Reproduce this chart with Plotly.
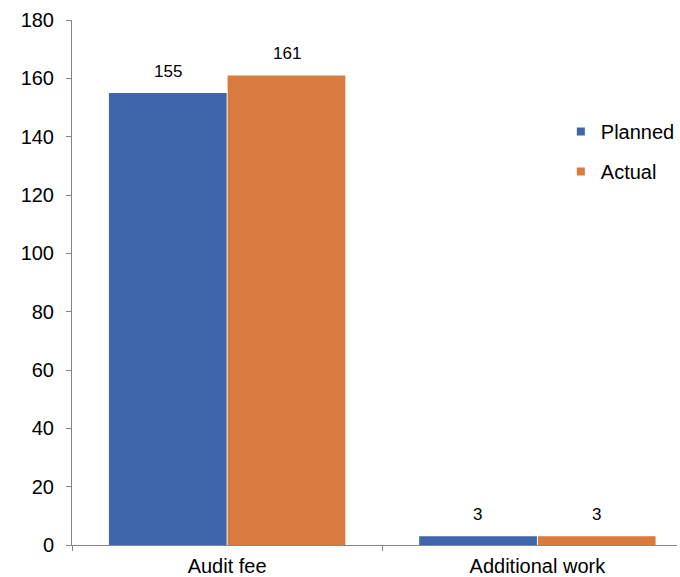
import plotly.graph_objects as go

categories = ["Audit fee", "Additional work"]
planned = [155, 3]
actual = [161, 3]
series_names = ["Planned", "Actual"]
colors = ["#3F65AA", "#D97A3F"]
y_ticks = [0, 20, 40, 60, 80, 100, 120, 140, 160, 180]

FONT = "Liberation Sans, Arial"

fig = go.Figure()
for i, (name, vals) in enumerate(zip(series_names, [planned, actual])):
    fig.add_trace(go.Bar(
        x=categories, y=vals, name=name,
        marker=dict(color=colors[i], line=dict(width=0)),
        showlegend=False,
    ))
# legend entries with small square markers
for i, name in enumerate(series_names):
    fig.add_trace(go.Scatter(
        x=[None], y=[None], mode="markers", name=name,
        marker=dict(symbol="square", size=8, color=colors[i]),
        legendgroup=name, showlegend=True,
    ))

# data labels
offsets = [-59.5, 59.5]
for i, vals in enumerate([planned, actual]):
    for c, v in zip(categories, vals):
        fig.add_annotation(x=c, y=v, text=str(v), showarrow=False,
                           xshift=offsets[i], yanchor="bottom", yshift=10,
                           font=dict(size=17, color="#000000", family=FONT))

fig.update_layout(
    width=680, height=577,
    margin=dict(l=72, r=0, t=20, b=32),
    paper_bgcolor="white", plot_bgcolor="white",
    barmode="group", bargap=0.235, bargroupgap=0.008,
    font=dict(family=FONT, size=20, color="#000000"),
    legend=dict(x=0.808, y=0.825, xanchor="left", yanchor="top",
                font=dict(size=20), tracegroupgap=11, bgcolor="rgba(0,0,0,0)",
                itemwidth=30),
    xaxis=dict(range=[-0.5, 1.45], showline=True, linecolor="#868686",
               linewidth=1, ticks="outside", tickson="boundaries", ticklen=5,
               tickcolor="#868686", showgrid=False, zeroline=False,
               tickfont=dict(size=20), ticklabelstandoff=3),
    yaxis=dict(range=[0, 180], tickvals=y_ticks, showline=True, linecolor="#868686",
               linewidth=1, ticks="outside", ticklen=5, tickcolor="#868686",
               showgrid=False, zeroline=False, tickfont=dict(size=20),
               ticklabelstandoff=8),
)

fig.write_html("out.html")
